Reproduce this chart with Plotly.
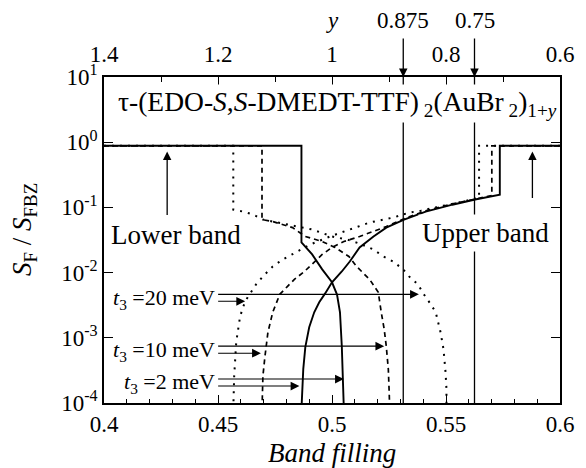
import numpy as np
import plotly.graph_objects as go

# Fermi-surface area (S_F / S_FBZ) versus band filling for three interlayer couplings t3
# t3 = 2 meV (solid)
lower_2_fill = [0.400, 0.4866, 0.4866, 0.4913, 0.4957, 0.5000, 0.5022, 0.5035, 0.5043, 0.5048, 0.5052]
lower_2_S = [0.88, 0.88, 0.029, 0.019, 0.0112, 0.0071, 0.0046, 0.00246, 0.00075, 0.00023, 0.00008]
upper_2_fill = [0.4866, 0.4874, 0.4883, 0.4900, 0.4922, 0.4944, 0.4970, 0.5000, 0.5043, 0.5078,
                0.5121, 0.5182, 0.5238, 0.5316, 0.5411, 0.5528, 0.5628, 0.5736, 0.5736, 0.600]
upper_2_S = [0.00008, 0.00033, 0.00072, 0.00145, 0.00246, 0.0035, 0.0048, 0.0071, 0.0104, 0.0148,
             0.0243, 0.0358, 0.049, 0.065, 0.086, 0.110, 0.132, 0.157, 0.88, 0.88]

# t3 = 10 meV (dashed)
lower_10_fill = [0.400, 0.4693, 0.4693, 0.4740, 0.4827, 0.4883, 0.4957, 0.5013, 0.5074, 0.5108,
                 0.5165, 0.5203, 0.5216, 0.5229, 0.5238, 0.5247, 0.5251, 0.5253]
lower_10_S = [0.88, 0.88, 0.065, 0.0607, 0.049, 0.0358, 0.030, 0.0243, 0.0177, 0.0124,
              0.00787, 0.00498, 0.00246, 0.00135, 0.000745, 0.00033, 0.00014, 0.00008]
upper_10_fill = [0.4693, 0.4697, 0.4706, 0.4719, 0.4740, 0.4771, 0.4805, 0.4835, 0.4879, 0.4922,
                 0.4957, 0.5000, 0.5052, 0.5121, 0.5182, 0.5238, 0.5316, 0.5411, 0.5528, 0.5628,
                 0.5701, 0.5701, 0.600]
upper_10_S = [0.00008, 0.00026, 0.00052, 0.00122, 0.00246, 0.00464, 0.00615, 0.00787, 0.0104, 0.0148,
              0.019, 0.0243, 0.030, 0.0358, 0.0427, 0.0508, 0.067, 0.089, 0.113, 0.136,
              0.152, 0.88, 0.88]

# t3 = 20 meV (dotted)
lower_20_fill = [0.400, 0.4567, 0.4567, 0.4610, 0.4654, 0.4697, 0.4762, 0.4848, 0.4913, 0.5000,
                 0.5065, 0.5121, 0.5182, 0.5225, 0.5268, 0.5312, 0.5338, 0.5377, 0.5403, 0.5433,
                 0.5455, 0.5476, 0.5489, 0.5498, 0.5502, 0.5502]
lower_20_S = [0.88, 0.88, 0.0925, 0.0863, 0.0776, 0.065, 0.0586, 0.0508, 0.0458, 0.0358,
              0.0322, 0.0279, 0.0226, 0.0177, 0.0148, 0.0112, 0.00875, 0.0066, 0.00464, 0.00327,
              0.00246, 0.00122, 0.00067, 0.000298, 0.000164, 0.00008]
upper_20_fill = [0.4567, 0.4571, 0.4580, 0.4597, 0.4619, 0.4667, 0.4697, 0.4740, 0.4784, 0.4827,
                 0.4905, 0.4991, 0.5078, 0.5165, 0.5268, 0.5338, 0.5390, 0.5528, 0.5645, 0.5645, 0.600]
upper_20_S = [0.00008, 0.00026, 0.00086, 0.00214, 0.00363, 0.0066, 0.00875, 0.0124, 0.0159, 0.019,
              0.027, 0.0358, 0.0458, 0.0586, 0.0698, 0.0832, 0.089, 0.113, 0.14, 0.88, 0.88]

# Range markers for each t3: upper arrow -> end of lower band, lower arrow -> start of upper band
t3_labels = ["20", "10", "2"]
t3_text_S = [0.0039, 0.00062, 0.000202]
t3_arrow_hi_S = [0.00464, 0.000745, 0.000233]
t3_arrow_hi_tip = [0.5381, 0.5229, 0.5052]
t3_arrow_lo_S = [0.00363, 0.00058, 0.000182]
t3_arrow_lo_tip = [0.4619, 0.4688, 0.4857]
t3_arrow_start = 0.4494

# Top axis: y in (AuBr2)_{1+y}, band filling = (3 - y) / 4
top_ticks = [1.4, 1.2, 1.0, 0.8, 0.6]
top_ticktext = ["1.4", "1.2", "1", "0.8", "0.6"]
y_marks = [0.875, 0.75]
y_mark_text = ["0.875", "0.75"]

x_ticks = [0.4, 0.45, 0.5, 0.55, 0.6]
x_ticktext = ["0.4", "0.45", "0.5", "0.55", "0.6"]
y_exps = [-4, -3, -2, -1, 0, 1]

SERIF = "Liberation Serif, Times New Roman, serif"
fig = go.Figure()

styles = [
    (lower_2_fill, lower_2_S, dict(color="black", width=1.9)),
    (upper_2_fill, upper_2_S, dict(color="black", width=1.9)),
    (lower_10_fill, lower_10_S, dict(color="black", width=1.7, dash="5px,4px")),
    (upper_10_fill, upper_10_S, dict(color="black", width=1.7, dash="5px,4px")),
    (lower_20_fill, lower_20_S, dict(color="black", width=2.0, dash="2px,6px")),
    (upper_20_fill, upper_20_S, dict(color="black", width=2.0, dash="2px,6px")),
]
for xs, ys, line in styles:
    fig.add_trace(go.Scatter(x=xs, y=ys, mode="lines", line=line,
                             showlegend=False, hoverinfo="skip"))

# invisible trace so the top axis is laid out
fig.add_trace(go.Scatter(x=[1.4, 0.6], y=[1, 1], xaxis="x2", mode="lines",
                         line=dict(width=0), showlegend=False, hoverinfo="skip"))

# vertical markers at y = 0.875 and 0.75
for ym in y_marks:
    xf = (3 - ym) / 4
    fig.add_shape(type="line", xref="x", yref="paper", x0=xf, x1=xf, y0=0, y1=1,
                  line=dict(color="black", width=1.3), layer="below")

ann = []
for ym, txt in zip(y_marks, y_mark_text):
    ann.append(dict(x=ym, xref="x2", y=1, yref="paper", text="", showarrow=True,
                    ax=0, ay=-40, arrowhead=2, arrowsize=1.3, arrowwidth=1.3, arrowcolor="black"))
    ann.append(dict(x=ym, xref="x2", y=1, yref="paper", yshift=57, text=txt, showarrow=False,
                    font=dict(family=SERIF, size=23, color="black"), yanchor="middle"))
ann.append(dict(x=1.0, xref="x2", y=1, yref="paper", yshift=57, text="<i>y</i>", showarrow=False,
                font=dict(family=SERIF, size=23, color="black"), yanchor="middle"))

# compound name
ann.append(dict(x=0.511, xref="paper", y=0.92, yref="paper", yanchor="middle",
                text="τ-(EDO-<i>S</i>,<i>S</i>-DMEDT-TTF)<sub> 2</sub>(AuBr<sub> 2</sub>)<sub>1+<i>y</i></sub>",
                showarrow=False, bgcolor="white", font=dict(family=SERIF, size=27.5, color="black")))

# band labels with arrows
ann.append(dict(x=0.4316, y=np.log10(0.0384), text="Lower band", showarrow=False,
                font=dict(family=SERIF, size=27, color="black")))
ann.append(dict(x=0.4277, y=np.log10(0.72), text="", showarrow=True, ax=0, ay=65,
                arrowhead=2, arrowsize=1.3, arrowwidth=1.3, arrowcolor="black"))
ann.append(dict(x=0.5675, y=np.log10(0.0398), text="Upper band", showarrow=False,
                bgcolor="white", borderpad=3, font=dict(family=SERIF, size=27, color="black")))
ann.append(dict(x=0.5879, y=np.log10(0.72), text="", showarrow=True, ax=0, ay=48,
                arrowhead=2, arrowsize=1.3, arrowwidth=1.3, arrowcolor="black"))

# t3 labels and range arrows
for lab, ts, hs, ht, ls, lt in zip(t3_labels, t3_text_S, t3_arrow_hi_S, t3_arrow_hi_tip,
                                   t3_arrow_lo_S, t3_arrow_lo_tip):
    ann.append(dict(x=t3_arrow_start, y=np.log10(ts), xanchor="right",
                    text=f"<i>t</i><sub>3</sub> ={lab} meV", showarrow=False,
                    font=dict(family=SERIF, size=22, color="black")))
    for s, tip in ((hs, ht), (ls, lt)):
        ann.append(dict(x=tip, y=np.log10(s), axref="x", ayref="y", ax=t3_arrow_start,
                        ay=np.log10(s), text="", showarrow=True, arrowhead=2, arrowsize=1.6,
                        arrowwidth=1.1, arrowcolor="black"))

# axis titles
ann.append(dict(x=0.5, xref="paper", y=0, yref="paper", yshift=-50, yanchor="middle",
                text="<i>Band filling</i>", showarrow=False,
                font=dict(family=SERIF, size=27, color="black")))
ann.append(dict(x=0, xref="paper", y=0.5, yref="paper", xshift=-80, yshift=10, xanchor="center",
                yanchor="middle", textangle=-90,
                text="<i>S</i><sub>F</sub> / <i>S</i><sub>FBZ</sub>", showarrow=False,
                font=dict(family=SERIF, size=27, color="black")))

tickfont = dict(family=SERIF, size=23, color="black")
fig.update_layout(
    width=586, height=468, autosize=False,
    margin=dict(l=104, r=20, t=77, b=65),
    paper_bgcolor="white", plot_bgcolor="white",
    annotations=ann,
    xaxis=dict(range=[0.4, 0.6], tickmode="array", tickvals=x_ticks, ticktext=x_ticktext,
               ticks="inside", ticklen=8, tickwidth=1.3, tickcolor="black",
               minor=dict(tick0=0.4, dtick=0.01, ticks="inside", ticklen=4, tickwidth=1, tickcolor="black"),
               showline=True, linewidth=1.6, linecolor="black", showgrid=False, zeroline=False,
               tickfont=tickfont),
    xaxis2=dict(range=[1.4, 0.6], overlaying="x", side="top", anchor="y",
                tickmode="array", tickvals=top_ticks, ticktext=top_ticktext,
                ticks="inside", ticklen=8, tickwidth=1.3, tickcolor="black", ticklabelstandoff=4,
                minor=dict(tick0=0.6, dtick=0.1, ticks="inside", ticklen=5, tickwidth=1, tickcolor="black"),
                showline=True, linewidth=1.6, linecolor="black", showgrid=False, zeroline=False,
                tickfont=tickfont),
    yaxis=dict(type="log", range=[-4, 1], tickmode="array",
               tickvals=[10.0 ** e for e in y_exps],
               ticktext=[f"10<sup>{e}</sup>" for e in y_exps],
               ticks="inside", ticklen=9, tickwidth=1.3, tickcolor="black",
               showline=True, linewidth=1.6, linecolor="black", mirror="ticks",
               showgrid=False, zeroline=False, tickfont=tickfont),
)

fig.write_html("out.html")
